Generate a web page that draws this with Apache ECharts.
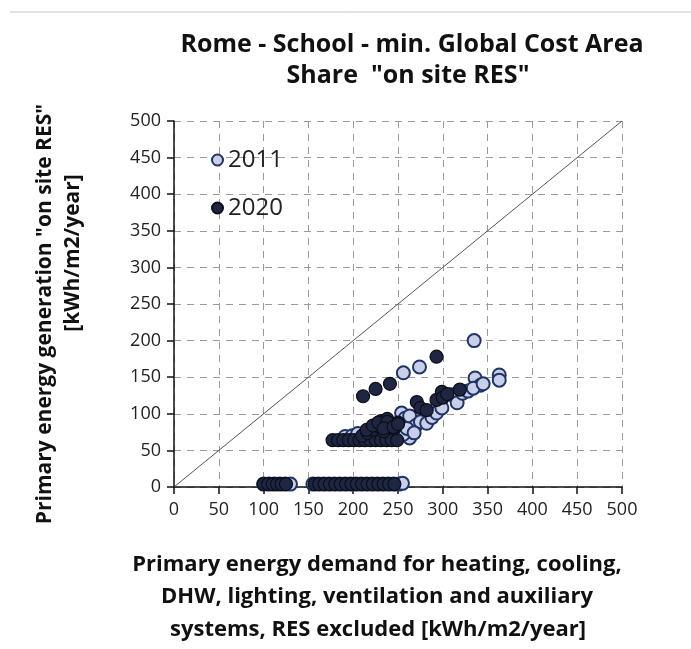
<!DOCTYPE html>
<html><head><meta charset="utf-8">
<script src="https://cdn.jsdelivr.net/npm/echarts@6/dist/echarts.min.js"></script>
<style>html,body{margin:0;padding:0;background:#fff}#c{width:691px;height:649px}</style>
</head><body><div id="c"></div>
<script>
const titleLines = ['Rome - School - min. Global Cost Area', 'Share  "on site RES"'];
const xNameLines = ['Primary energy demand for heating, cooling,', 'DHW, lighting, ventilation and auxiliary', 'systems, RES excluded [kWh/m2/year]'];
const yNameLines = ['Primary energy generation "on site RES"', '[kWh/m2/year]'];
const seriesNames = ['2011', '2020'];

const data2011 = [
  [100,4],[106,4],[112,4],[118,4],[124,4],[130,4],
  [155,4],[161,4],[167,4],[173,4],[179,4],[185,4],[191,4],[197,4],[203,4],[209,4],[215,4],[221,4],[227,4],[233,4],[239,4],[245,4],[251,4],[255,5],
  [191,69],[199,70],[205,73],[212,71],[222,73],[234,75],[246,72],
  [254,101],[258,94],[263,97],[263,67],[265,78],[270,84],[275,89],[282,87],[288,95],[293,101],[299,108],
  [256,72],[260,80],[268,74],
  [310,126],[316,123],[316,115],[322,128],[328,131],
  [256,156],[274,164],[335,200],
  [336,149],[342,139],[334,135],[345,141],[363,153],[363,146]
];
const data2020 = [
  [100,4],[105,4],[110,4],[115,4],[120,4],[125,4],
  [157,4],[162,4],[168,4],[174,4],[180,4],[186,4],[192,4],[198,4],[204,4],[210,4],[216,4],[222,4],[228,4],[234,4],[240,4],[246,4],
  [177,64],[183,64],[189,64],[195,64],[201,64],[207,64],[213,64],[219,64],[225,64],[231,64],[237,64],[243,64],[249,64],
  [210,70],[216,74],[222,78],[228,83],[234,76],[240,86],[246,80],[250,88],[231,90],[238,93],
  [215,78],[222,84],[228,88],[238,89],[234,80],[245,82],[250,86],
  [271,116],[275,108],[282,105],[293,119],[299,130],[300,122],[305,127],[319,133],
  [211,124],[225,134],[241,141],[293,178]
];
const diagonal = [[0,0],[500,500]];

const FONT = '"Open Sans", "Liberation Sans", sans-serif';
const chart = echarts.init(document.getElementById('c'), null, {renderer:'canvas'});
const axisCommon = {
  type:'value', min:0, max:500, interval:50,
  axisLine:{show:true, onZero:false, lineStyle:{color:'#111', width:1.5}},
  axisTick:{show:true, inside:false, length:7, lineStyle:{color:'#111', width:1.5}},
  axisLabel:{fontFamily:FONT, fontSize:18, color:'#222'},
  splitLine:{show:true, lineStyle:{color:'#9a9a9a', type:[7,6], width:1}}
};
chart.setOption({
  animation:false,
  backgroundColor:'#fff',
  grid:{left:174, top:121, width:448, height:366},
  xAxis:Object.assign({}, axisCommon, {axisLabel:Object.assign({}, axisCommon.axisLabel, {margin:14})}),
  yAxis:Object.assign({}, axisCommon, {axisLabel:Object.assign({}, axisCommon.axisLabel, {margin:13})}),
  legend:{
    data:seriesNames, orient:'vertical', left:206, top:141, itemGap:20, padding:5,
    itemWidth:11, itemHeight:11, icon:'circle',
    textStyle:{fontFamily:FONT, fontSize:24, lineHeight:28, color:'#222'}
  },
  series:[
    {type:'line', data:diagonal, showSymbol:false, silent:true, lineStyle:{color:'#555', width:1}, z:1},
    {name:'2011', type:'scatter', data:data2011, symbolSize:13, z:2,
      itemStyle:{color:'#c9cfe9', borderColor:'#1f3566', borderWidth:2, opacity:1}},
    {name:'2020', type:'scatter', data:data2020, symbolSize:13, z:3,
      itemStyle:{color:'#1f2642', borderColor:'#0b0e19', borderWidth:1.2, opacity:1}}
  ],
  graphic:[
    {type:'line', shape:{x1:10,y1:12,x2:691,y2:12}, style:{stroke:'#c4c4c4', lineWidth:1}},
    {type:'text', x:412, y:45, style:{text:titleLines[0], font:'bold 25px '+FONT, fill:'#111', textAlign:'center', textVerticalAlign:'middle'}},
    {type:'text', x:408, y:76, style:{text:titleLines[1], font:'bold 25px '+FONT, fill:'#111', textAlign:'center', textVerticalAlign:'middle'}},
    {type:'text', x:377, y:565, style:{text:xNameLines[0], font:'bold 22px '+FONT, fill:'#111', textAlign:'center', textVerticalAlign:'middle'}},
    {type:'text', x:377, y:597, style:{text:xNameLines[1], font:'bold 22px '+FONT, fill:'#111', textAlign:'center', textVerticalAlign:'middle'}},
    {type:'text', x:378, y:630, style:{text:xNameLines[2], font:'bold 22px '+FONT, fill:'#111', textAlign:'center', textVerticalAlign:'middle'}},
    {type:'text', x:45, y:314, rotation:Math.PI/2, style:{text:yNameLines[0], font:'bold 21px '+FONT, fill:'#111', textAlign:'center', textVerticalAlign:'middle'}},
    {type:'text', x:73, y:253, rotation:Math.PI/2, style:{text:yNameLines[1], font:'bold 21px '+FONT, fill:'#111', textAlign:'center', textVerticalAlign:'middle'}}
  ]
});
</script></body></html>
